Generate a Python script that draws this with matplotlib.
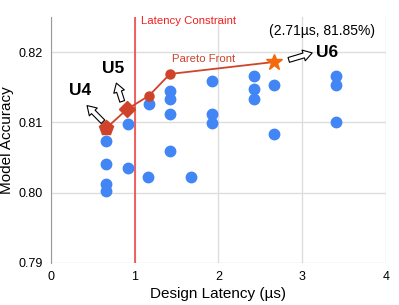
import numpy as np
import matplotlib.pyplot as plt

plt.rcParams['font.family'] = ['Liberation Sans', 'DejaVu Sans']

# All design points (latency in us, accuracy)
design_latency = [0.66, 0.66, 0.66, 0.66, 0.92, 0.92, 1.17, 1.16, 1.42, 1.42, 1.42, 1.42,
                  1.67, 1.92, 1.92, 1.92, 2.42, 2.42, 2.42, 2.66, 2.66, 3.41, 3.41, 3.41]
design_accuracy = [0.8073, 0.8041, 0.8013, 0.8002, 0.8098, 0.8035, 0.8126, 0.8023, 0.8145, 0.8133, 0.8112, 0.8060,
                   0.8023, 0.8159, 0.8112, 0.8099, 0.8166, 0.8148, 0.8133, 0.8154, 0.8084, 0.8166, 0.8153, 0.8101]

# Pareto front
pareto_latency = [0.66, 0.91, 1.17, 1.42, 2.66]
pareto_accuracy = [0.8092, 0.8119, 0.8138, 0.8169, 0.8186]

latency_constraint = 1.0

fig = plt.figure(figsize=(3.99, 3.05), dpi=100)
ax = fig.add_axes([0.128, 0.138, 0.839, 0.806])

blue = '#4285F4'
red = '#D0432B'

ax.plot(design_latency, design_accuracy, 'o', color=blue, markersize=7.5, zorder=3)
ax.plot(pareto_latency, pareto_accuracy, '-', color=red, linewidth=1.3, zorder=4)
ax.plot(pareto_latency[2:4], pareto_accuracy[2:4], 'o', color=red, markersize=6.5, zorder=5)
ax.plot(pareto_latency[0], pareto_accuracy[0], 'p', color=red, markersize=11, zorder=5)
ax.plot(pareto_latency[1], pareto_accuracy[1], 'D', color=red, markersize=8, zorder=5)
ax.plot(pareto_latency[4], pareto_accuracy[4], '*', color='#F46A0A', markersize=12, zorder=5)

ax.axvline(latency_constraint, color='#F03A3A', linewidth=1.1, zorder=2)

ax.set_xlim(0, 4)
ax.set_ylim(0.79, 0.825)
ax.set_xticks([0, 1, 2, 3, 4])
ax.set_yticks([0.79, 0.80, 0.81, 0.82])
ax.set_yticklabels(['0.79', '0.80', '0.81', '0.82'])
ax.grid(True, color='#DDDDDD', linewidth=1)
ax.set_axisbelow(True)
for s in ['top', 'right', 'bottom']:
    ax.spines[s].set_visible(False)
ax.spines['left'].set_color('#999999')
ax.tick_params(length=0, labelsize=9, pad=6)
ax.set_xlabel('Design Latency (µs)', fontsize=11, labelpad=3)
ax.set_ylabel('Model Accuracy', fontsize=11, labelpad=3)

# Text annotations
ax.text(1.07, 0.8245, 'Latency Constraint', color='#F02020', fontsize=8.2, va='center')
ax.text(1.45, 0.8191, 'Pareto Front', color='#D0432B', fontsize=8.2, va='center')
ax.text(2.6, 0.8230, '(2.71µs, 81.85%)', color='black', fontsize=10, va='center')
ax.text(0.215, 0.8145, 'U4', fontsize=12.5, fontweight='bold', va='center')
ax.text(0.61, 0.8177, 'U5', fontsize=12.5, fontweight='bold', va='center')
ax.text(3.16, 0.8199, 'U6', fontsize=12.5, fontweight='bold', va='center')

# Hollow block arrows
def hollow_arrow(x0, y0, x1, y1):
    ax.annotate('', xy=(x1, y1), xytext=(x0, y0),
                arrowprops=dict(arrowstyle='simple,head_length=0.8,head_width=1.0,tail_width=0.45',
                                mutation_scale=8, shrinkA=0, shrinkB=0,
                                facecolor='white', edgecolor='black', linewidth=0.8),
                zorder=6)

hollow_arrow(0.62, 0.8101, 0.43, 0.8124)
hollow_arrow(0.85, 0.8130, 0.78, 0.8156)
hollow_arrow(2.84, 0.8189, 3.12, 0.8199)

plt.savefig('out.png', dpi=100)
